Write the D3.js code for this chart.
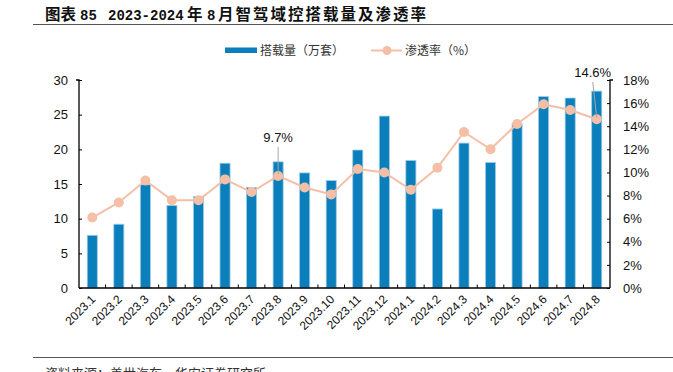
<!DOCTYPE html>
<html><head><meta charset="utf-8">
<script src="https://cdn.jsdelivr.net/npm/d3@7/dist/d3.min.js"></script>
<style>body{margin:0;background:#fff}svg{display:block}</style>
</head><body>
<script>
const categories = ["2023.1","2023.2","2023.3","2023.4","2023.5","2023.6","2023.7","2023.8","2023.9","2023.10","2023.11","2023.12","2024.1","2024.2","2024.3","2024.4","2024.5","2024.6","2024.7","2024.8"];
const volume = [7.6,9.2,14.9,11.9,13.2,18.0,14.5,18.2,16.6,15.5,19.9,24.8,18.4,11.4,20.9,18.1,23.7,27.6,27.4,28.4];
const penetration = [6.1,7.4,9.3,7.6,7.6,9.4,8.3,9.7,8.7,8.1,10.3,10.0,8.5,10.4,13.5,12.0,14.2,15.9,15.4,14.6];
const leftTicks = [0,5,10,15,20,25,30];
const rightTicks = [0,2,4,6,8,10,12,14,16,18];
const labelled = ["2023.8","2024.8"];
const titleParts = [["图表", 45, "cjk"], ["85", 80, "mono"], ["2023-2024", 108, "mono"], ["年", 187, "cjk"], ["8", 207, "mono"], ["月智驾域控搭载量及渗透率", 218, "cjk"]];

(function(){
const W = 673, H = 372;
const svg = d3.select("body").append("svg").attr("width", W).attr("height", H);
const font = "'Liberation Sans', Arial, sans-serif";
const cjk = "'Noto Sans CJK SC', sans-serif";
const mono = "'Liberation Mono', 'DejaVu Sans Mono', monospace";

// title
const t = svg.append("text").attr("y", 19.5).attr("font-weight", "bold").attr("fill", "#111");
titleParts.forEach(([s, px, f], k) => {
  t.append("tspan").attr("x", px).attr("font-family", f === "cjk" ? cjk : mono)
    .attr("font-size", f === "cjk" ? 15.5 : 14)
    .attr("letter-spacing", k === titleParts.length - 1 ? 2 : 0).text(s);
});
svg.append("line").attr("x1", 33).attr("x2", W).attr("y1", 24.5).attr("y2", 24.5).attr("stroke", "#555").attr("stroke-width", 1);
svg.append("line").attr("x1", 33).attr("x2", W).attr("y1", 357.5).attr("y2", 357.5).attr("stroke", "#555").attr("stroke-width", 1);
svg.append("text").attr("x", 45).attr("y", 378).attr("font-family", cjk).attr("font-size", 13)
  .attr("fill", "#333").text("资料来源：盖世汽车，华安证券研究所");

const pL = 79, pR = 610, pT = 80, pB = 288;
const x = d3.scaleBand().domain(categories).range([pL, pR]).paddingInner(0.62).paddingOuter(0.31);
const xb = d3.scaleBand().domain(categories).range([pL, pR]);
const yL = d3.scaleLinear().domain([0, 30]).range([pB, pT]);
const yR = d3.scaleLinear().domain([0, 18]).range([pB, pT]);

// legend
const bar = "#0b7fbb", lineC = "#f4bfa6";
svg.append("rect").attr("x", 225).attr("y", 47.5).attr("width", 32).attr("height", 5.5).attr("fill", bar);
svg.append("text").attr("x", 260).attr("y", 54.5).attr("font-family", cjk).attr("font-size", 12).attr("fill", "#333").text("搭载量（万套）");
svg.append("line").attr("x1", 371).attr("x2", 402).attr("y1", 50.5).attr("y2", 50.5).attr("stroke", lineC).attr("stroke-width", 2);
svg.append("circle").attr("cx", 387).attr("cy", 50.5).attr("r", 4.5).attr("fill", lineC);
svg.append("text").attr("x", 405).attr("y", 54.5).attr("font-family", cjk).attr("font-size", 12).attr("fill", "#333").text("渗透率（%）");

// bars
svg.append("g").selectAll("rect").data(categories).join("rect")
  .attr("x", d => x(d)).attr("width", x.bandwidth())
  .attr("y", (d, i) => yL(volume[i])).attr("height", (d, i) => pB - yL(volume[i]))
  .attr("fill", bar).attr("stroke", "#9fcde6").attr("stroke-width", 0.8);

// axes
const gL = svg.append("g").attr("transform", `translate(${pL},0)`)
  .call(d3.axisLeft(yL).tickValues(leftTicks).tickSize(-3).tickPadding(11));
const gR = svg.append("g").attr("transform", `translate(${pR},0)`)
  .call(d3.axisRight(yR).tickValues(rightTicks).tickSize(-3).tickPadding(13).tickFormat(d => d + "%"));
[gL, gR].forEach(g => {
  g.select(".domain").attr("stroke", "#000").attr("stroke-width", 1.3);
  g.selectAll(".tick line").attr("stroke", "#000");
  g.selectAll("text").attr("font-family", font).attr("font-size", 13).attr("fill", "#111");
});
gL.select(".domain").attr("d", `M-3,${pT}H0V${pB}`);
gR.select(".domain").attr("d", `M3,${pT}H0V${pB}`);

// x axis
const gx = svg.append("g").attr("transform", `translate(0,${pB})`);
gx.append("line").attr("x1", pL).attr("x2", pR).attr("stroke", "#000").attr("stroke-width", 1.3);
gx.selectAll("line.t").data(categories.slice(1)).join("line").attr("class", "t")
  .attr("x1", d => xb(d)).attr("x2", d => xb(d)).attr("y1", 0).attr("y2", -3.5).attr("stroke", "#000");
gx.selectAll("text").data(categories).join("text")
  .attr("transform", d => `translate(${xb(d) + xb.bandwidth() / 2 + 4},${12}) rotate(-45)`)
  .attr("text-anchor", "end").attr("font-family", font).attr("font-size", 12).attr("fill", "#111").text(d => d);

// line
const cx = d => xb(d) + xb.bandwidth() / 2;
svg.append("path").datum(categories)
  .attr("d", d3.line().x(d => cx(d)).y((d, i) => yR(penetration[i])))
  .attr("fill", "none").attr("stroke", lineC).attr("stroke-width", 2);
svg.append("g").selectAll("circle").data(categories).join("circle")
  .attr("cx", cx).attr("cy", (d, i) => yR(penetration[i])).attr("r", 5).attr("fill", lineC);

// data labels
labelled.forEach(c => {
  const i = categories.indexOf(c);
  const px = cx(c), py = yR(penetration[i]);
  const lx = c === "2024.8" ? px - 4 : px;
  const ly = c === "2024.8" ? 73 : 138;
  svg.append("line").attr("x1", lx).attr("y1", ly + 9).attr("x2", px).attr("y2", py - 2)
    .attr("stroke", "#a6a6a6").attr("stroke-width", 1);
  svg.append("text").attr("x", lx).attr("y", ly + 4).attr("text-anchor", "middle")
    .attr("font-family", font).attr("font-size", 13).attr("fill", "#111").text(penetration[i] + "%");
});
})();
</script>
</body></html>
